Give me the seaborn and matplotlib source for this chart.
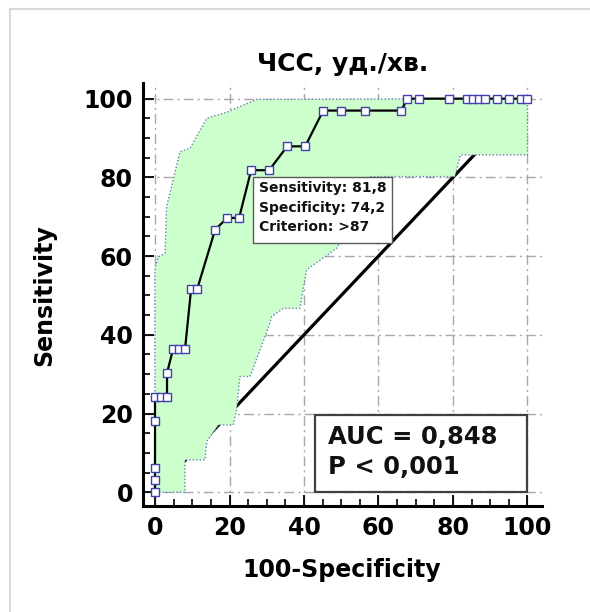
import numpy as np
import pandas as pd
import matplotlib
matplotlib.use("Agg")
import matplotlib.pyplot as plt
from matplotlib.patches import Rectangle
from matplotlib.lines import Line2D
import seaborn as sns

# ---------------- data ----------------
roc_fpr = [0, 0, 0, 0, 0, 1.61, 3.23, 3.23, 4.84, 6.45, 8.06, 9.68, 11.29,
           16.13, 19.35, 22.58, 25.81, 30.65, 35.48, 40.32, 45.16, 50.0,
           56.45, 66.13, 67.74, 70.97, 79.03, 83.87, 85.48, 87.10, 88.71,
           91.94, 95.16, 98.39, 100.0]
roc_tpr = [0, 3.03, 6.06, 18.18, 24.24, 24.24, 24.24, 30.30, 36.36, 36.36,
           36.36, 51.52, 51.52, 66.67, 69.70, 69.70, 81.82, 81.82, 87.88,
           87.88, 96.97, 96.97, 96.97, 96.97, 100, 100, 100, 100, 100, 100,
           100, 100, 100, 100, 100]

ci_upper_x = [0, 0, 0.9, 2.7, 3.1, 6.7, 9.4, 13.9, 19.7, 27.3, 100, 100]
ci_upper_y = [0, 57.0, 59.8, 60.7, 72.5, 86.5, 87.4, 95.0, 96.7, 99.8, 100, 85.7]
ci_lower_x = [82.0, 80.5, 58.0, 55.0, 48.8, 40.7, 38.9, 34.4, 31.3, 30.4,
              25.5, 22.8, 21.9, 21.0, 17.0, 13.9, 13.4, 8.05, 8.05, 0]
ci_lower_y = [85.7, 80.2, 80.2, 72.0, 62.0, 56.5, 46.7, 46.7, 44.6, 41.7,
              29.4, 29.4, 20.9, 17.1, 17.1, 12.9, 8.2, 8.2, 0, 0]

diag_x = [0, 100]
diag_y = [0, 100]

title = "ЧСС, уд./хв."
xlabel = "100-Specificity"
ylabel = "Sensitivity"
ticks = [0, 20, 40, 60, 80, 100]
info_lines = ["Sensitivity: 81,8", "Specificity: 74,2", "Criterion: >87"]
auc_lines = ["AUC = 0,848", "P < 0,001"]

# ---------------- style ----------------
sns.set_style("white")
plt.rcParams["font.family"] = ["DejaVu Sans"]
plt.rcParams["font.weight"] = "bold"
for k in ["text.color", "axes.labelcolor", "xtick.color", "ytick.color"]:
    plt.rcParams[k] = "black"

fig = plt.figure(figsize=(5.90, 6.12), dpi=100)
ax = fig.add_axes([0.2419, 0.1732, 0.918 - 0.2419, 0.8639 - 0.1732])

# figure frame (page border visible in the screenshot)
fig.add_artist(Line2D([10 / 590, 10 / 590], [0, 1 - 9 / 612], transform=fig.transFigure,
                      color="#d9d9d9", lw=1.5))
fig.add_artist(Line2D([10 / 590, 1], [1 - 9 / 612, 1 - 9 / 612], transform=fig.transFigure,
                      color="#d9d9d9", lw=1.5))

# diagonal reference line
sns.lineplot(x=diag_x, y=diag_y, ax=ax, color="black", lw=2.3, zorder=1)

# confidence band
band_x = ci_upper_x + ci_lower_x
band_y = ci_upper_y + ci_lower_y
ax.fill(band_x, band_y, facecolor="#ccffcc", edgecolor="none", zorder=2)
ax.plot(band_x + [band_x[0]], band_y + [band_y[0]], color="#6b7fb8", lw=1.0,
        linestyle=(0, (1, 1.5)), zorder=2.5)

# ROC curve
roc_df = pd.DataFrame({"fpr": roc_fpr, "tpr": roc_tpr})
sns.lineplot(data=roc_df, x="fpr", y="tpr", sort=False, estimator=None, ax=ax,
             color="black", lw=1.6, marker="s", markersize=5.2,
             markerfacecolor="white", markeredgecolor="#3f3fb0",
             markeredgewidth=1.0, zorder=3)

# axes
ax.set_xlim(-3.3, 103.8)
ax.set_ylim(-3.5, 103.9)
ax.set_xticks(ticks)
ax.set_yticks(ticks)
ax.set_xticks(np.arange(0, 101, 5), minor=True)
ax.set_yticks(np.arange(0, 101, 5), minor=True)
ax.set_xticklabels([str(t) for t in ticks], fontsize=17, fontweight="bold")
ax.set_yticklabels([str(t) for t in ticks], fontsize=17, fontweight="bold")
ax.tick_params(which="major", direction="in", length=8, width=1.3, pad=7,
               color="black", bottom=True, left=True)
ax.tick_params(which="minor", direction="in", length=5, width=1.2,
               color="black", bottom=True, left=True)
for s in ["top", "right"]:
    ax.spines[s].set_visible(False)
for s in ["left", "bottom"]:
    ax.spines[s].set_color("black")
    ax.spines[s].set_linewidth(2.2)
ax.grid(True, which="major", color="#a8a8a8", lw=1.0, linestyle=(0, (7, 3, 1.5, 3)))
ax.set_axisbelow(True)

ax.set_title(title, fontsize=18, fontweight="bold", pad=9)
ax.set_xlabel(xlabel, fontsize=17, fontweight="bold", labelpad=13)
ax.set_ylabel(ylabel, fontsize=17, fontweight="bold", labelpad=20)

# info box
ax.add_patch(Rectangle((26.4, 63.3), 63.6 - 26.4, 80.0 - 63.3, facecolor="white",
                       edgecolor="#5a5a5a", lw=1.0, zorder=4))
for line, yy in zip(info_lines, [77.2, 72.1, 67.3]):
    ax.text(28.0, yy, line, fontsize=10, fontweight="bold", va="center",
            ha="left", color="#111111", zorder=5)

# AUC box
ax.add_patch(Rectangle((43.0, 0.0), 100 - 43.0, 19.6, facecolor="white",
                       edgecolor="#404040", lw=1.6, zorder=4))
for line, yy in zip(auc_lines, [14.1, 6.5]):
    ax.text(46.4, yy, line, fontsize=17.5, fontweight="bold", va="center",
            ha="left", color="#111111", zorder=5)

fig.savefig("out.png", dpi=100)
